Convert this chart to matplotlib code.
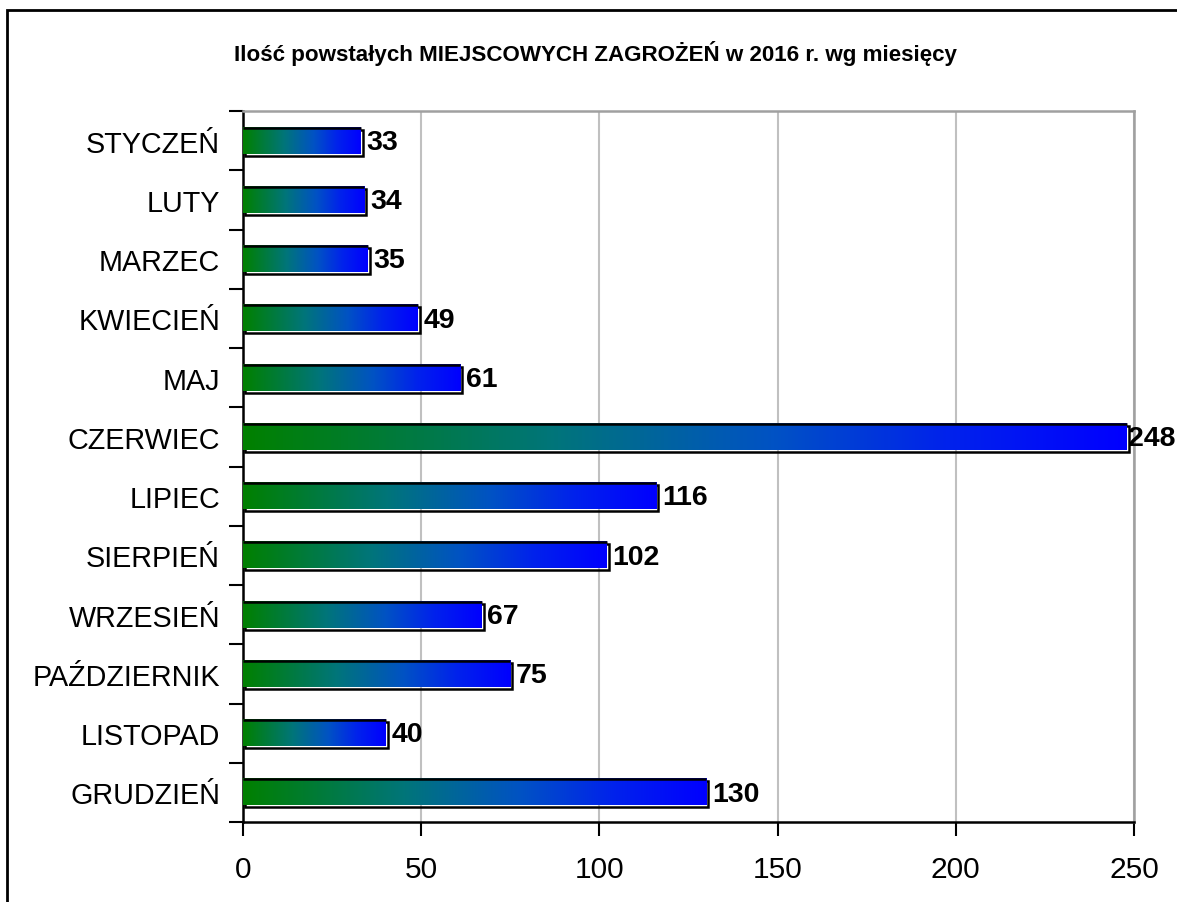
import matplotlib
matplotlib.use("Agg")
import matplotlib.pyplot as plt
import matplotlib.transforms as mtransforms
from matplotlib.colors import LinearSegmentedColormap
from matplotlib.patches import Rectangle
import numpy as np

plt.rcParams['font.family'] = ['Liberation Sans', 'DejaVu Sans']

title = "Ilość powstałych MIEJSCOWYCH ZAGROŻEŃ w 2016 r. wg miesięcy"
months = ["STYCZEŃ", "LUTY", "MARZEC", "KWIECIEŃ", "MAJ", "CZERWIEC", "LIPIEC",
          "SIERPIEŃ", "WRZESIEŃ", "PAŹDZIERNIK", "LISTOPAD", "GRUDZIEŃ"]
values = [33, 34, 35, 49, 61, 248, 116, 102, 67, 75, 40, 130]
xticks = [0, 50, 100, 150, 200, 250]

W, H = 1177, 903
fig = plt.figure(figsize=(W / 100, H / 100), dpi=100)
ax = fig.add_axes([243 / W, 1 - 823 / H, (1134 - 243) / W, (823 - 112) / H])

cmap = LinearSegmentedColormap.from_list(
    "g2b", [(0.0, "#008000"), (0.35, "#00757a"), (0.6, "#0052c4"),
            (0.8, "#0022ec"), (1.0, "#0000ff")])
grad = np.linspace(0, 1, 256).reshape(1, -1)

bh = 0.44
shadow_tr = mtransforms.offset_copy(ax.transData, fig, x=2, y=-2, units='dots')
for i, v in enumerate(values):
    y0, y1 = i - bh / 2, i + bh / 2
    ax.add_patch(Rectangle((0, y0), v, bh, fill=False, edgecolor='black',
                           lw=1.8, transform=shadow_tr, zorder=3))
    ax.imshow(grad, extent=[0, v, y1, y0], aspect='auto', cmap=cmap,
              interpolation='bilinear', zorder=4)
    ax.plot([0, v], [y0, y0], color='black', lw=1.8, zorder=5,
            solid_capstyle='butt')
    ax.text(min(v + 1.6, 248.4), i + 0.02, str(v), va='center', ha='left',
            fontsize=20.5, fontweight='bold', zorder=6, clip_on=False)

ax.set_xlim(0, 250)
ax.set_ylim(len(months) - 0.5, -0.5)
ax.set_xticks(xticks)
ax.set_xticklabels([str(t) for t in xticks], fontsize=21.5)
ax.set_yticks(range(len(months)))
ax.set_yticklabels(months, fontsize=20.7)
ax.set_yticks(np.arange(-0.5, len(months), 1), minor=True)
ax.tick_params(axis='y', which='major', length=0, pad=16.5)
ax.tick_params(axis='y', which='minor', length=10, width=1.5, color='black')
ax.tick_params(axis='x', which='major', length=10, width=1.5, pad=13.5)
ax.xaxis.grid(True, color='#c0c0c0', lw=1.5, zorder=0)
ax.set_axisbelow(True)
for s in ['left', 'bottom']:
    ax.spines[s].set_linewidth(1.8)
    ax.spines[s].set_color('black')
for s in ['top', 'right']:
    ax.spines[s].set_linewidth(1.8)
    ax.spines[s].set_color('#a0a0a0')

fig.text(596 / W, 1 - 53 / H, title, ha='center', va='center',
         fontsize=16.1, fontweight='bold')

fig.patches.append(Rectangle((7 / W, -0.02), 1.1, (H - 11) / H + 0.02,
                             fill=False, edgecolor='black', lw=2,
                             transform=fig.transFigure, clip_on=False))

fig.savefig("out.png", dpi=100)
